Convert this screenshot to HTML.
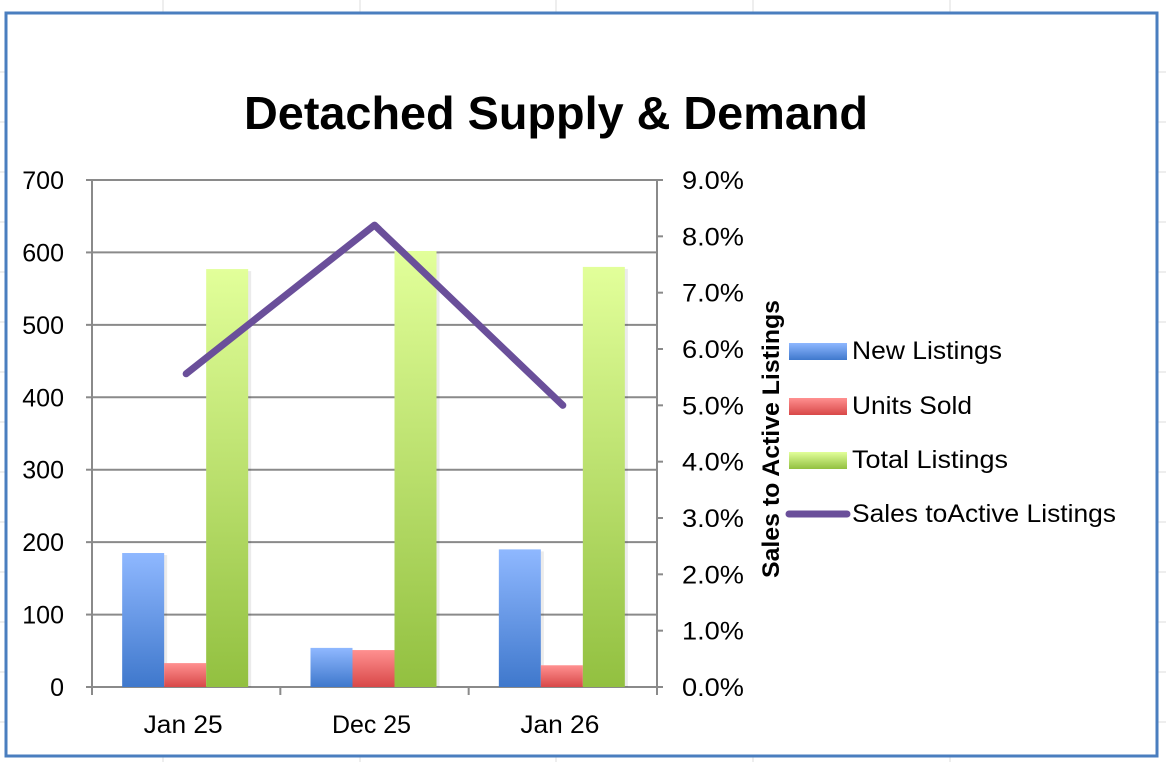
<!DOCTYPE html>
<html><head><meta charset="utf-8"><style>
body{margin:0;width:1166px;height:762px;background:#fff;overflow:hidden;font-family:"Liberation Sans",sans-serif}
</style></head><body>
<svg width="1166" height="762" xmlns="http://www.w3.org/2000/svg" font-family="Liberation Sans, sans-serif">
<defs>
<linearGradient id="gb" x1="0" y1="0" x2="0" y2="1"><stop offset="0" stop-color="#8fb8ff"/><stop offset="1" stop-color="#3f78cc"/></linearGradient>
<linearGradient id="gr" x1="0" y1="0" x2="0" y2="1"><stop offset="0" stop-color="#ff9090"/><stop offset="1" stop-color="#d84848"/></linearGradient>
<linearGradient id="gg" x1="0" y1="0" x2="0" y2="1"><stop offset="0" stop-color="#e2ff9a"/><stop offset="1" stop-color="#92c040"/></linearGradient>
</defs>
<g id="bg" stroke="#dcdcdc" stroke-width="1">
<line x1="163" y1="0" x2="163" y2="762"/><line x1="360" y1="0" x2="360" y2="762"/><line x1="556" y1="0" x2="556" y2="762"/><line x1="753" y1="0" x2="753" y2="762"/><line x1="950" y1="0" x2="950" y2="762"/>
<line x1="0" y1="72" x2="1166" y2="72"/><line x1="0" y1="122" x2="1166" y2="122"/><line x1="0" y1="172" x2="1166" y2="172"/><line x1="0" y1="222" x2="1166" y2="222"/><line x1="0" y1="272" x2="1166" y2="272"/><line x1="0" y1="322" x2="1166" y2="322"/><line x1="0" y1="372" x2="1166" y2="372"/><line x1="0" y1="422" x2="1166" y2="422"/><line x1="0" y1="472" x2="1166" y2="472"/><line x1="0" y1="522" x2="1166" y2="522"/><line x1="0" y1="572" x2="1166" y2="572"/><line x1="0" y1="622" x2="1166" y2="622"/><line x1="0" y1="672" x2="1166" y2="672"/><line x1="0" y1="722" x2="1166" y2="722"/>
</g>
<rect x="6" y="13" width="1151" height="743" fill="#fff" stroke="#4a7ebf" stroke-width="3"/>
<text x="556" y="129" text-anchor="middle" font-size="46" font-weight="bold" textLength="624" lengthAdjust="spacingAndGlyphs">Detached Supply &amp; Demand</text>
<g id="grid"></g><g id="bars"></g><g id="axes"></g><g id="line"></g>
<text transform="translate(779,439) rotate(-90)" text-anchor="middle" font-size="24" font-weight="bold" textLength="278" lengthAdjust="spacingAndGlyphs">Sales to Active Listings</text>
<g font-size="25">
<g><rect x="789" y="343" width="58" height="17" fill="url(#gb)"/><text x="852" y="359" textLength="150" lengthAdjust="spacingAndGlyphs">New Listings</text></g>
<g><rect x="789" y="398" width="58" height="17" fill="url(#gr)"/><text x="852" y="414" textLength="120" lengthAdjust="spacingAndGlyphs">Units Sold</text></g>
<g><rect x="789" y="452" width="58" height="17" fill="url(#gg)"/><text x="852" y="468" textLength="156" lengthAdjust="spacingAndGlyphs">Total Listings</text></g>
<g><line x1="789" y1="514" x2="847" y2="514" stroke="#6a4f9a" stroke-width="7" stroke-linecap="round"/><text x="852" y="522" textLength="264" lengthAdjust="spacingAndGlyphs">Sales toActive Listings</text></g>
</g>
</svg>
<script>
const categories=["Jan 25","Dec 25","Jan 26"];
const newListings=[185,54,190];
const unitsSold=[33,51,30];
const totalListings=[577,602,580];
const salesRatio=[5.56,8.2,5.0];
const leftTicks=[0,100,200,300,400,500,600,700];
const rightTicks=["0.0%","1.0%","2.0%","3.0%","4.0%","5.0%","6.0%","7.0%","8.0%","9.0%"];
const NS="http://www.w3.org/2000/svg";
const X0=92,X1=657,Y0=687,Y1=180;
const y=v=>Y0-(v/700)*(Y0-Y1);
const y2=v=>Y0-(v/9)*(Y0-Y1);
const cw=(X1-X0)/categories.length;
const cx=i=>X0+cw*(i+0.5);
function mk(t,a,p){const e=document.createElementNS(NS,t);for(const k in a)e.setAttribute(k,a[k]);document.getElementById(p).appendChild(e);return e;}
leftTicks.forEach(t=>{
 const g=mk("line",{x1:X0,x2:X1,y1:y(t),y2:y(t),stroke:"#8a8a8a","stroke-width":2},"grid");
 
 
 const l=mk("text",{x:64,y:y(t)+9,"text-anchor":"end","font-size":25},"axes");l.textContent=t;
 
 
 mk("line",{x1:X0-6,x2:X0,y1:y(t),y2:y(t),stroke:"#8a8a8a","stroke-width":2},"axes");
});
rightTicks.forEach((t,i)=>{
 const l=mk("text",{x:682,y:y2(i)+9,"font-size":25,textLength:62,lengthAdjust:"spacingAndGlyphs"},"axes");l.textContent=t;
 
 
 mk("line",{x1:X1,x2:X1+6,y1:y2(i),y2:y2(i),stroke:"#8a8a8a","stroke-width":2},"axes");
});
mk("line",{x1:X0,x2:X0,y1:Y1,y2:Y0,stroke:"#8a8a8a","stroke-width":2},"axes");
mk("line",{x1:X1,x2:X1,y1:Y1,y2:Y0,stroke:"#8a8a8a","stroke-width":2},"axes");
for(let i=0;i<=categories.length;i++)mk("line",{x1:X0+cw*i,x2:X0+cw*i,y1:Y0,y2:Y0+8,stroke:"#8a8a8a","stroke-width":2},"axes");
const bw=42;
categories.forEach((c,i)=>{
 const l=mk("text",{x:cx(i)-3,y:733,"text-anchor":"middle","font-size":25,textLength:79,lengthAdjust:"spacingAndGlyphs"},"axes");l.textContent=c;
 
 
 [[newListings,"url(#gb)","bar-new-listings"],[unitsSold,"url(#gr)","bar-units-sold"],[totalListings,"url(#gg)","bar-total-listings"]].forEach((s,j)=>{
  const bx=cx(i)-1.5*bw+j*bw-1;
  mk("rect",{x:bx+bw-1,y:y(s[0][i])+2,width:4,height:Y0-y(s[0][i])-2,fill:"#000",opacity:0.08},"bars");
  const r=mk("rect",{x:bx,y:y(s[0][i]),width:bw,height:Y0-y(s[0][i]),fill:s[1]},"bars");
  
  
 });
});
const pl=mk("polyline",{points:salesRatio.map((v,i)=>cx(i)+","+y2(v)).join(" "),fill:"none",stroke:"#6a4f9a","stroke-width":7,"stroke-linecap":"round","stroke-linejoin":"round"},"line");


</script>
</body></html>
